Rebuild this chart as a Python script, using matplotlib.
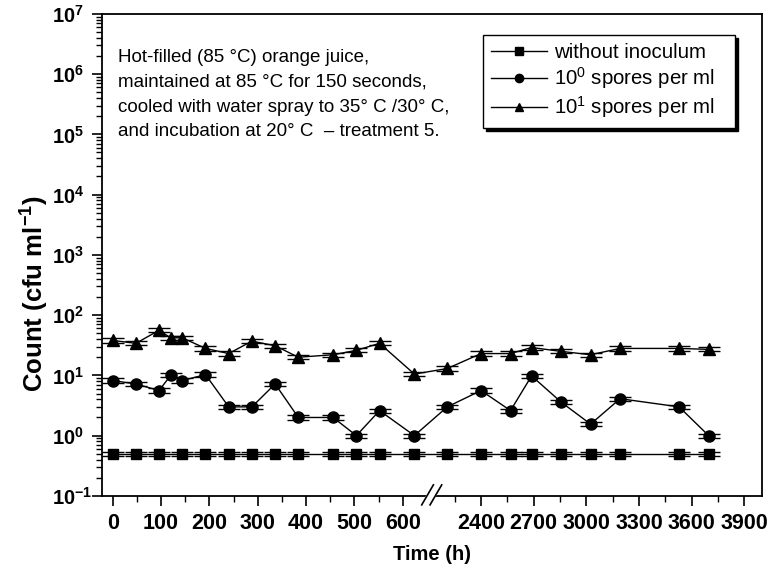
import numpy as np
import matplotlib
matplotlib.use('Agg')
import matplotlib.pyplot as plt
from matplotlib.lines import Line2D
from matplotlib.ticker import LogLocator, NullFormatter

plt.rcParams['font.family'] = ['Liberation Sans', 'DejaVu Sans']
plt.rcParams['mathtext.fontset'] = 'custom'
plt.rcParams['mathtext.rm'] = 'Liberation Sans'
plt.rcParams['mathtext.it'] = 'Liberation Sans:italic'
plt.rcParams['mathtext.bf'] = 'Liberation Sans:bold'

# sampling times (h)
hours_blank = [0, 48, 96, 144, 192, 240, 288, 336, 384, 456, 504, 552, 624,
               2208, 2400, 2568, 2688, 2856, 3024, 3192, 3528, 3696]
hours_spores = [0, 48, 96, 120, 144, 192, 240, 288, 336, 384, 456, 504, 552, 624,
                2208, 2400, 2568, 2688, 2856, 3024, 3192, 3528, 3696]

# counts (cfu/ml)
count_blank = [0.5] * len(hours_blank)
count_1e0 = [8.2, 7.2, 5.6, 10.0, 8.2, 10.3, 3.0, 3.0, 7.2, 2.0, 2.0, 1.0, 2.6, 1.0,
             3.0, 5.6, 2.6, 9.8, 3.6, 1.55, 4.1, 3.0, 1.0]
count_1e1 = [38, 34, 56, 42, 42, 28, 23, 37, 31, 20, 22, 26, 34, 10.5,
             13, 23, 23, 29, 25, 22, 28, 28, 27]

series_labels = ['without inoculum', r'10$^0$ spores per ml', r'10$^1$ spores per ml']
x_ticks = [0, 100, 200, 300, 400, 500, 600, 2400, 2700, 3000, 3300, 3600, 3900]
x_minor = [50, 150, 250, 350, 450, 550, 2250, 2550, 2850, 3150, 3450, 3750]
y_exps = [-1, 0, 1, 2, 3, 4, 5, 6, 7]

note = ('Hot-filled (85 \u00b0C) orange juice,\n'
        'maintained at 85 \u00b0C for 150 seconds,\n'
        'cooled with water spray to 35\u00b0 C /30\u00b0 C,\n'
        'and incubation at 20\u00b0 C  \u2013 treatment 5.')

# broken time axis: 0-650 h normal, then compressed from 2150 h on
brk_x = [-1000, 650, 2150, 6000]
brk_u = [-1000, 650, 671, 671 + 3850 * 0.3632]


def fwd(x):
    return np.interp(x, brk_x, brk_u)


def inv(u):
    return np.interp(u, brk_u, brk_x)


def rel_err(v, d=0.035):
    v = np.asarray(v, dtype=float)
    return [v * (1 - 10 ** -d), v * (10 ** d - 1)]


fig = plt.figure(figsize=(7.67, 5.68), dpi=100)
ax = fig.add_axes([0.133, 0.127, 0.8605, 0.8486])
ax.set_xscale('function', functions=(fwd, inv))
ax.set_yscale('log')

style = dict(color='k', lw=1, elinewidth=1, capsize=8, capthick=1)
ax.errorbar(hours_blank, count_blank, yerr=rel_err(count_blank), marker='s', ms=7, **style)
ax.errorbar(hours_spores, count_1e0, yerr=rel_err(count_1e0), marker='o', ms=8, **style)
ax.errorbar(hours_spores, count_1e1, yerr=rel_err(count_1e1), marker='^', ms=9, **style)

ax.set_xlim(-22, 4000)
ax.set_ylim(1e-1, 1e7)

ax.set_xticks(x_ticks, labels=[str(t) for t in x_ticks], fontsize=15.5, fontweight='bold')
ax.set_xticks(x_minor, minor=True)
ax.set_yticks([10.0 ** e for e in y_exps],
              labels=[r'$\mathbf{10^{%d}}$' % e for e in y_exps], fontsize=14.5)
ax.yaxis.set_minor_locator(LogLocator(base=10, subs=np.arange(2, 10), numticks=100))
ax.yaxis.set_minor_formatter(NullFormatter())
ax.tick_params(which='major', direction='out', length=7, width=1.2)
ax.tick_params(which='minor', direction='out', length=4, width=1.0)
ax.tick_params(axis='x', which='major', pad=5)
# y labels are left aligned in a column
ax.tick_params(axis='y', which='major', pad=29)
for lab in ax.get_yticklabels():
    lab.set_horizontalalignment('left')
for s in ax.spines.values():
    s.set_linewidth(1.3)

ax.set_xlabel('Time (h)', fontsize=14.5, fontweight='bold', labelpad=8)
ax.set_ylabel(r'Count (cfu ml$^{\mathbf{-1}}$)', fontsize=18.5, fontweight='bold')
ax.yaxis.set_label_coords(-0.078, 0.42)

# break marks on the time axis
ax.fill([0.4844, 0.4970, 0.5147, 0.5011], [-0.0187, -0.0187, 0.0228, 0.0228],
        color='white', transform=ax.transAxes, clip_on=False, zorder=5)
for x0 in (0.4844, 0.4970):
    ax.plot([x0, x0 + 0.0177], [-0.0187, 0.0228], color='k', lw=1.2,
            transform=ax.transAxes, clip_on=False, zorder=6)

ax.text(0.024, 0.927, note, transform=ax.transAxes, fontsize=13.5, va='top', ha='left',
        linespacing=1.6)

handles = [Line2D([], [], color='k', lw=1, marker=m, ms=6) for m in ('s', 'o', '^')]
ax.legend(handles, series_labels, loc='upper left', bbox_to_anchor=(0.577, 0.7, 0.382, 0.256),
          mode='expand', fontsize=14.7, fancybox=False, edgecolor='k', framealpha=1,
          shadow={'color': 'k', 'alpha': 1}, handlelength=2.75, handletextpad=0.35,
          labelspacing=0.15, borderpad=0.4, borderaxespad=0)

fig.savefig('out.png', dpi=100)
